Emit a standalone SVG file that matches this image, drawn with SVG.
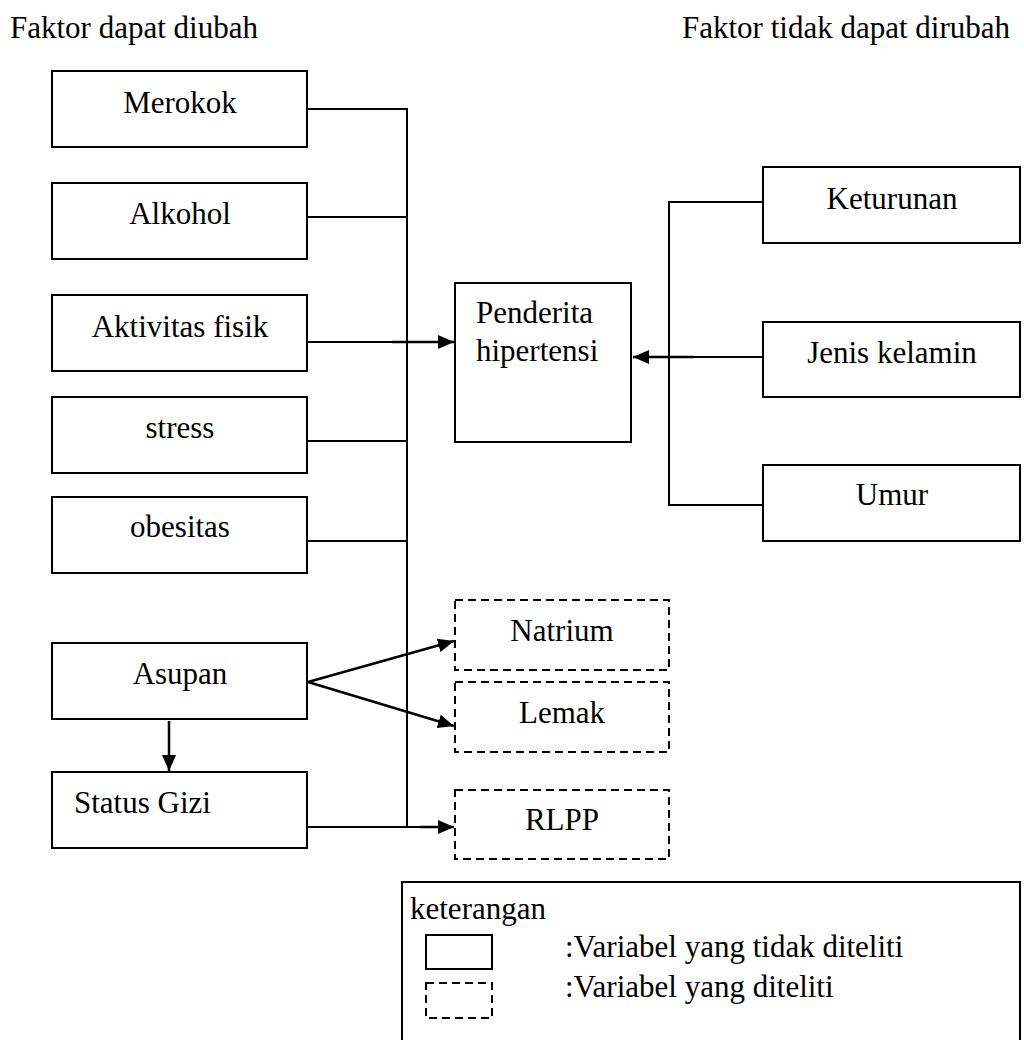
<svg xmlns="http://www.w3.org/2000/svg" width="1024" height="1040" viewBox="0 0 1024 1040">
<style>
text{font-family:'Liberation Serif','Tinos','Times New Roman','DejaVu Serif',serif;font-size:31px;fill:#000}
.c{text-anchor:middle}
.box{fill:#fff;stroke:#000;stroke-width:2}
.dash{fill:#fff;stroke:#000;stroke-width:2;stroke-dasharray:8 5}
.ln{fill:none;stroke:#000;stroke-width:2}
.ar{fill:none;stroke:#000;stroke-width:2.5}
</style>
<defs>
<marker id="ah" markerWidth="16" markerHeight="14" refX="16" refY="7" orient="auto" markerUnits="userSpaceOnUse">
<path d="M0,0 L16,7 L0,14 Z" fill="#000"/>
</marker>
</defs>
<rect width="1024" height="1040" fill="#fff"/>
<text x="10" y="38" font-family="Liberation Serif, serif">Faktor dapat diubah</text>
<text x="682" y="38" font-family="Liberation Serif, serif">Faktor tidak dapat dirubah</text>

<g id="connectors">
<path class="ln" d="M307,109 H407 V827"/>
<path class="ln" d="M307,217 H407"/>
<path class="ln" d="M307,441 H407"/>
<path class="ln" d="M307,541 H407"/>
<path class="ln" d="M307,342 H392"/>
<path class="ar" d="M392,342 H454" marker-end="url(#ah)"/>
<path class="ln" d="M308,827 H420"/>
<path class="ar" d="M420,827 H454" marker-end="url(#ah)"/>
<path class="ar" d="M308,682 L454,641" marker-end="url(#ah)"/>
<path class="ar" d="M308,682 L454,726" marker-end="url(#ah)"/>
<path class="ar" d="M169,721 V771" marker-end="url(#ah)"/>
<path class="ln" d="M763,202 H669 V505 H763"/>
<path class="ln" d="M763,357 H694"/>
<path class="ar" d="M694,357 H633" marker-end="url(#ah)"/>
</g>

<g id="merokok"><rect class="box" x="52" y="71" width="255" height="76"/><text class="c" x="180" y="113">Merokok</text></g>
<g id="alkohol"><rect class="box" x="52" y="183" width="255" height="76"/><text class="c" x="180" y="224">Alkohol</text></g>
<g id="aktivitas"><rect class="box" x="52" y="295" width="255" height="76"/><text class="c" x="180" y="337">Aktivitas fisik</text></g>
<g id="stress"><rect class="box" x="52" y="397" width="255" height="76"/><text class="c" x="180" y="438">stress</text></g>
<g id="obesitas"><rect class="box" x="52" y="497" width="255" height="76"/><text class="c" x="180" y="537">obesitas</text></g>
<g id="asupan"><rect class="box" x="52" y="643" width="255" height="76"/><text class="c" x="180" y="684">Asupan</text></g>
<g id="statusgizi"><rect class="box" x="52" y="772" width="255" height="76"/><text x="74" y="813">Status Gizi</text></g>

<g id="penderita"><rect class="box" x="455" y="283" width="176" height="159"/><text x="476" y="323">Penderita</text><text x="476" y="361">hipertensi</text></g>

<g id="keturunan"><rect class="box" x="763" y="167" width="257" height="76"/><text class="c" x="892" y="209">Keturunan</text></g>
<g id="jenis"><rect class="box" x="763" y="322" width="257" height="75"/><text class="c" x="892" y="363">Jenis kelamin</text></g>
<g id="umur"><rect class="box" x="763" y="465" width="257" height="76"/><text class="c" x="892" y="505">Umur</text></g>

<g id="natrium"><rect class="dash" x="455" y="600" width="214" height="70"/><text class="c" x="562" y="641">Natrium</text></g>
<g id="lemak"><rect class="dash" x="455" y="682" width="214" height="70"/><text class="c" x="562" y="723">Lemak</text></g>
<g id="rlpp"><rect class="dash" x="455" y="790" width="214" height="69"/><text class="c" x="562" y="830">RLPP</text></g>

<g id="legend">
<rect class="box" x="402" y="882" width="618" height="170"/>
<text x="410" y="919">keterangan</text>
<rect class="box" x="426" y="935" width="66" height="34"/>
<rect class="dash" x="426" y="983" width="66" height="35"/>
<text x="565" y="957">:Variabel yang tidak diteliti</text>
<text x="565" y="997">:Variabel yang diteliti</text>
</g>
</svg>
